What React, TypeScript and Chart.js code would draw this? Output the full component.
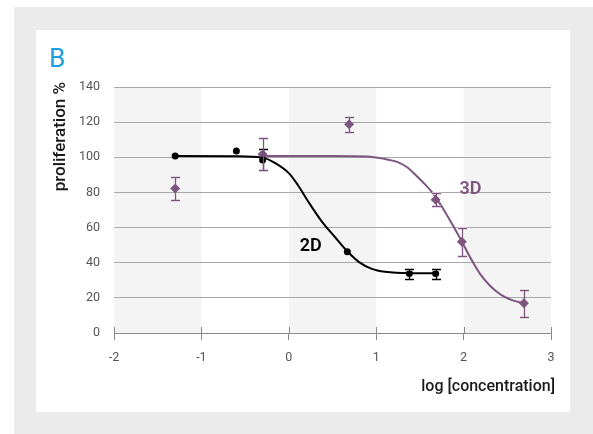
import React, { useEffect, useRef } from 'react';
import { Chart, registerables } from 'chart.js';

Chart.register(...registerables);

// ---- data ----
const xMin = -2;
const xMax = 3;
const yMin = 0;
const yMax = 140;

const pts2dX = [-1.3, -0.6, -0.3, 0.67, 1.38, 1.68];
const pts2dY = [100.7, 103.6, 98.5, 46.3, 33.8, 33.8];
const err2d = [0, 0, 6, 0, 2.8, 2.8];

const pts3dX = [-1.3, -0.3, 0.69, 1.68, 1.98, 2.69];
const pts3dY = [82.3, 101.7, 118.8, 75.9, 52, 16.9];
const err3d = [6.5, 9, 4.4, 3.5, 8, 7.8];

const fit2dX = [-1.3, -0.6, -0.3, -0.16, 0, 0.1, 0.22, 0.37, 0.53, 0.67, 0.8, 0.95, 1.1, 1.38, 1.68];
const fit2dY = [100.7, 100.6, 99.8, 96.8, 91, 84.5, 75, 64, 54.5, 46.5, 40.5, 36.5, 34.8, 34, 34];

const fit3dX = [-0.3, 0.5, 0.9, 1.1, 1.23, 1.35, 1.46, 1.55, 1.65, 1.75, 1.88, 1.98, 2.07, 2.19, 2.3, 2.38, 2.47, 2.57, 2.69];
const fit3dY = [100.8, 100.8, 100.5, 99, 97.5, 94.5, 89.5, 85, 79.5, 72, 61, 52, 43.5, 33.5, 27, 23.5, 20.5, 18.4, 16.9];

const seriesNames = ['2D', '3D'];
const seriesLabelX = [0.25, 2.08];
const seriesLabelY = [49.5, 81.4];

const yTitle = 'proliferation %';
const xTitle = 'log [concentration]';
const panelLetter = 'B';

// ---- styles ----
const PURPLE = '#7d5680';
const BLACK = '#000000';
const FONT = 'Roboto, "DejaVu Sans", sans-serif';

const toXY = (xs: number[], ys: number[]) => xs.map((x, i) => ({ x, y: ys[i] }));

const bandsPlugin = {
  id: 'bands',
  beforeDraw(chart: any) {
    const { ctx, chartArea, scales } = chart;
    const xs = scales.x;
    ctx.save();
    ctx.fillStyle = '#f4f4f4';
    for (let v = xMin; v < xMax; v += 2) {
      const a = xs.getPixelForValue(v);
      const b = xs.getPixelForValue(Math.min(v + 1, xMax));
      ctx.fillRect(a, chartArea.top, b - a, chartArea.bottom - chartArea.top);
    }
    ctx.restore();
  },
};

const overlayPlugin = {
  id: 'overlay',
  afterDatasetsDraw(chart: any) {
    const { ctx, scales, chartArea } = chart;
    const ys = scales.y;
    const xs = scales.x;
    const errs = [err2d, err3d];
    const cols = [BLACK, PURPLE];
    ctx.save();
    [0, 1].forEach((di) => {
      const meta = chart.getDatasetMeta(di);
      const vals = di === 0 ? pts2dY : pts3dY;
      meta.data.forEach((el: any, i: number) => {
        const e = errs[di][i];
        if (!e) return;
        const x = Math.round(el.x) + 0.5;
        const yt = Math.round(ys.getPixelForValue(vals[i] + e)) + 0.5;
        const yb = Math.round(ys.getPixelForValue(vals[i] - e)) + 0.5;
        const hw = 4.5;
        ctx.lineWidth = 3;
        ctx.strokeStyle = 'rgba(255,255,255,0.8)';
        ctx.beginPath();
        ctx.moveTo(x - hw, yt); ctx.lineTo(x + hw, yt);
        ctx.moveTo(x - hw, yb); ctx.lineTo(x + hw, yb);
        ctx.stroke();
        ctx.lineWidth = 1.3;
        ctx.strokeStyle = cols[di];
        ctx.beginPath();
        ctx.moveTo(x, yt); ctx.lineTo(x, yb);
        ctx.moveTo(x - hw, yt); ctx.lineTo(x + hw, yt);
        ctx.moveTo(x - hw, yb); ctx.lineTo(x + hw, yb);
        ctx.stroke();
      });
    });
    // series labels
    ctx.textAlign = 'center';
    ctx.textBaseline = 'middle';
    ctx.font = `600 18px ${FONT}`;
    seriesNames.forEach((n, i) => {
      ctx.fillStyle = cols[i];
      ctx.fillText(n, xs.getPixelForValue(seriesLabelX[i]), ys.getPixelForValue(seriesLabelY[i]));
    });
    ctx.restore();
  },
  afterDraw(chart: any) {
    const { ctx, scales, chartArea } = chart;
    const xs = scales.x;
    ctx.save();
    // upward tick marks on the x axis
    ctx.strokeStyle = '#8a8a8a';
    ctx.lineWidth = 1;
    ctx.beginPath();
    for (let v = xMin; v <= xMax; v += 1) {
      const px = Math.round(xs.getPixelForValue(v)) + 0.5;
      ctx.moveTo(px, chartArea.bottom - 6);
      ctx.lineTo(px, chartArea.bottom);
    }
    ctx.stroke();
    // axis titles
    ctx.fillStyle = '#1a1a1a';
    ctx.font = `500 16px ${FONT}`;
    ctx.textAlign = 'right';
    ctx.textBaseline = 'alphabetic';
    ctx.fillText(xTitle, chartArea.right + 4, chartArea.bottom + 58);
    ctx.translate(28.5, chartArea.top - 5);
    ctx.rotate(-Math.PI / 2);
    ctx.font = `500 17px ${FONT}`;
    ctx.textAlign = 'right';
    ctx.fillText(yTitle, 0, 0);
    ctx.restore();
  },
};

export default function App() {
  const ref = useRef<HTMLCanvasElement | null>(null);

  useEffect(() => {
    if (!ref.current) return;
    const tickFont = { family: FONT, size: 12.5 };
    const chart = new Chart(ref.current, {
      type: 'scatter',
      data: {
        datasets: [
          {
            label: '2D',
            data: toXY(pts2dX, pts2dY),
            pointStyle: 'circle',
            pointRadius: 3.5,
            backgroundColor: BLACK,
            borderColor: BLACK,
            borderWidth: 0,
            showLine: false,
            order: 0,
          },
          {
            label: '3D',
            data: toXY(pts3dX, pts3dY),
            pointStyle: 'rectRot',
            pointRadius: 5,
            backgroundColor: PURPLE,
            borderColor: PURPLE,
            borderWidth: 0,
            showLine: false,
            order: 0,
          },
          {
            label: '2D fit',
            data: toXY(fit2dX, fit2dY),
            showLine: true,
            pointRadius: 0,
            borderColor: BLACK,
            borderWidth: 2,
            cubicInterpolationMode: 'monotone',
            order: 1,
          },
          {
            label: '3D fit',
            data: toXY(fit3dX, fit3dY),
            showLine: true,
            pointRadius: 0,
            borderColor: PURPLE,
            borderWidth: 2,
            cubicInterpolationMode: 'monotone',
            order: 2,
          },
        ],
      },
      options: {
        responsive: false,
        animation: false,
        events: [],
        layout: { padding: { left: 0, top: 57, right: 19, bottom: 0 } },
        plugins: { legend: { display: false }, tooltip: { enabled: false } },
        scales: {
          x: {
            type: 'linear',
            min: xMin,
            max: xMax,
            ticks: { stepSize: 1, padding: 10, color: '#555', font: tickFont },
            grid: { drawOnChartArea: false, drawTicks: true, tickLength: 7, color: '#8a8a8a' },
            border: { display: true, color: '#8a8a8a' },
            afterFit: (s: any) => { s.height = 79; },
          },
          y: {
            min: yMin,
            max: yMax,
            ticks: { stepSize: 20, padding: 14, color: '#555', font: tickFont },
            grid: { drawTicks: false, color: '#a8a8a8' },
            border: { display: false },
            afterFit: (s: any) => { s.width = 78; },
          },
        },
      } as any,
      plugins: [bandsPlugin, overlayPlugin],
    });
    return () => chart.destroy();
  }, []);

  return (
    <div style={{ position: 'fixed', left: 0, top: 0, width: 593, height: 434, background: '#fff', overflow: 'hidden' }}>
      <div style={{ position: 'absolute', left: 14, top: 7, right: 0, bottom: 0, background: '#ebebeb' }} />
      <div style={{ position: 'absolute', left: 36, top: 30, width: 534, height: 382, background: '#fff' }}>
        <div
          style={{
            position: 'absolute',
            left: 13,
            top: 15,
            fontFamily: FONT,
            fontSize: 26,
            lineHeight: '26px',
            color: '#1aa0dc',
          }}
        >
          {panelLetter}
        </div>
        <canvas ref={ref} width={534} height={382} style={{ position: 'absolute', left: 0, top: 0, width: 534, height: 382 }} />
      </div>
    </div>
  );
}
